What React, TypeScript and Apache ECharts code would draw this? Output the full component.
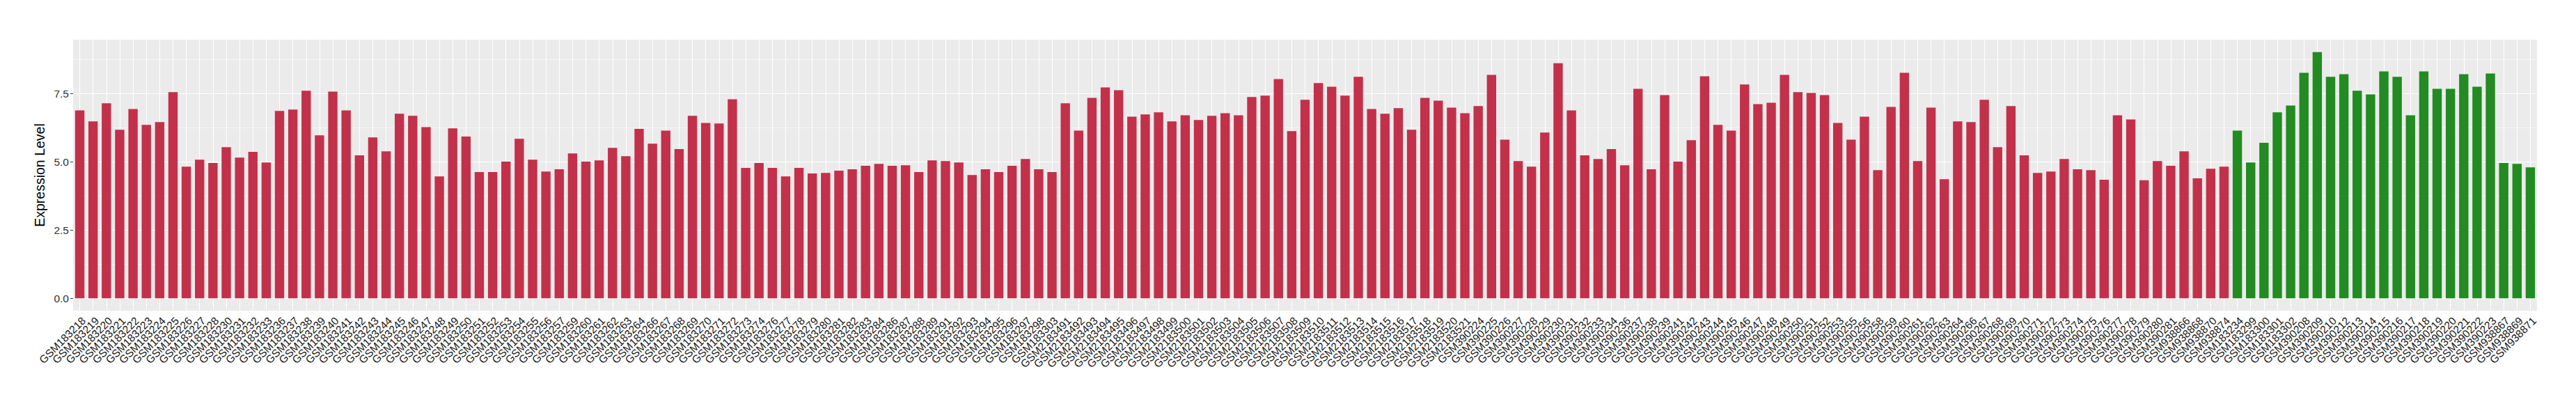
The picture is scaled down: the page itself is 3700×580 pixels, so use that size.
import React, { useEffect, useRef } from "react";
import * as echarts from "echarts";

const redSamples = [
  "GSM183218", "GSM183219", "GSM183220", "GSM183221", "GSM183222", "GSM183223", "GSM183224", "GSM183225",
  "GSM183226", "GSM183227", "GSM183228", "GSM183230", "GSM183231", "GSM183232", "GSM183233", "GSM183236",
  "GSM183237", "GSM183238", "GSM183239", "GSM183240", "GSM183241", "GSM183242", "GSM183243", "GSM183244",
  "GSM183245", "GSM183246", "GSM183247", "GSM183248", "GSM183249", "GSM183250", "GSM183251", "GSM183252",
  "GSM183253", "GSM183254", "GSM183255", "GSM183256", "GSM183257", "GSM183259", "GSM183260", "GSM183261",
  "GSM183262", "GSM183263", "GSM183264", "GSM183266", "GSM183267", "GSM183268", "GSM183269", "GSM183270",
  "GSM183271", "GSM183272", "GSM183273", "GSM183274", "GSM183276", "GSM183277", "GSM183278", "GSM183279",
  "GSM183280", "GSM183281", "GSM183282", "GSM183283", "GSM183284", "GSM183286", "GSM183287", "GSM183288",
  "GSM183289", "GSM183291", "GSM183292", "GSM183293", "GSM183294", "GSM183295", "GSM183296", "GSM183297",
  "GSM183298", "GSM183303",
  "GSM2183491", "GSM2183492", "GSM2183493", "GSM2183494", "GSM2183495", "GSM2183496", "GSM2183497",
  "GSM2183498", "GSM2183499", "GSM2183500", "GSM2183501", "GSM2183502", "GSM2183503", "GSM2183504",
  "GSM2183505", "GSM2183506", "GSM2183507", "GSM2183508", "GSM2183509", "GSM2183510", "GSM2183511",
  "GSM2183512", "GSM2183513", "GSM2183514", "GSM2183515", "GSM2183516", "GSM2183517", "GSM2183518",
  "GSM2183519", "GSM2183520", "GSM2183521",
  "GSM390224", "GSM390225", "GSM390226", "GSM390227", "GSM390228", "GSM390229", "GSM390230", "GSM390231",
  "GSM390232", "GSM390233", "GSM390234", "GSM390236", "GSM390237", "GSM390238", "GSM390239", "GSM390241",
  "GSM390242", "GSM390243", "GSM390244", "GSM390245", "GSM390246", "GSM390247", "GSM390248", "GSM390249",
  "GSM390250", "GSM390251", "GSM390252", "GSM390253", "GSM390255", "GSM390256", "GSM390258", "GSM390259",
  "GSM390260", "GSM390261", "GSM390262", "GSM390263", "GSM390264", "GSM390266", "GSM390267", "GSM390268",
  "GSM390269", "GSM390270", "GSM390271", "GSM390272", "GSM390273", "GSM390274", "GSM390275", "GSM390276",
  "GSM390277", "GSM390278", "GSM390279", "GSM390280", "GSM390281",
  "GSM938866", "GSM938868", "GSM938870", "GSM938874",
];

const redValues = [
  6.89, 6.49, 7.15, 6.18, 6.94, 6.36, 6.46, 7.56, 4.83, 5.08, 4.96, 5.54, 5.16, 5.37, 4.98, 6.87,
  6.92, 7.61, 5.98, 7.58, 6.89, 5.24, 5.90, 5.39, 6.77, 6.69, 6.28, 4.47, 6.23, 5.93, 4.63, 4.63,
  5.01, 5.85, 5.08, 4.65, 4.73, 5.31, 5.01, 5.06, 5.52, 5.21, 6.21, 5.67, 6.15, 5.47, 6.69, 6.43,
  6.41, 7.30, 4.78, 4.96, 4.78, 4.47, 4.78, 4.58, 4.60, 4.68, 4.73, 4.86, 4.93, 4.86, 4.88, 4.63,
  5.06, 5.03, 4.98, 4.52, 4.73, 4.63, 4.86, 5.11, 4.73, 4.63,
  7.15, 6.15, 7.35, 7.73, 7.63, 6.66, 6.74, 6.82, 6.49, 6.71, 6.54, 6.69, 6.79, 6.71, 7.38, 7.43,
  8.04, 6.13, 7.28, 7.89, 7.76, 7.43, 8.12, 6.94, 6.77, 6.97, 6.18, 7.35, 7.25, 6.99, 6.79,
  7.05, 8.19, 5.82, 5.03, 4.83, 6.08, 8.62, 6.89, 5.24, 5.11, 5.47, 4.88, 7.68, 4.73, 7.45, 5.01,
  5.80, 8.14, 6.36, 6.15, 7.84, 7.12, 7.17, 8.19, 7.56, 7.53, 7.45, 6.43, 5.82, 6.66, 4.70, 7.02,
  8.27, 5.03, 6.99, 4.37, 6.49, 6.46, 7.28, 5.54, 7.05, 5.24, 4.60, 4.65, 5.11, 4.73, 4.70, 4.35,
  6.71, 6.56, 4.33, 5.03, 4.86,
  5.39, 4.40, 4.75, 4.83,
];

const greenSamples = [
  "GSM183234", "GSM183299", "GSM183300", "GSM183301", "GSM183302", "GSM390208", "GSM390209", "GSM390210",
  "GSM390212", "GSM390213", "GSM390214", "GSM390215", "GSM390216", "GSM390217", "GSM390218", "GSM390219",
  "GSM390220", "GSM390221", "GSM390222", "GSM390223", "GSM938867", "GSM938869", "GSM938871",
];

const greenValues = [
  6.15, 4.98, 5.70, 6.82, 7.07, 8.27, 9.03, 8.12, 8.22, 7.61, 7.48, 8.32, 8.12, 6.71, 8.32, 7.68,
  7.68, 8.22, 7.76, 8.24, 4.96, 4.93, 4.80,
];

const yTicks = [0, 2.5, 5, 7.5];
const yMinorTicks = [1.25, 3.75, 6.25, 8.75];

const FONT = "'Liberation Sans', Arial, Helvetica, sans-serif";
const RED = "#C3304A";
const GREEN = "#228B22";

export default function App() {
  const ref = useRef<HTMLDivElement>(null);

  useEffect(() => {
    const chart = echarts.init(ref.current as HTMLDivElement, null, { renderer: "svg" });
    const categories = [...redSamples, ...greenSamples];
    const nRed = redValues.length;
    const redData = categories.map((_, i) => (i < nRed ? redValues[i] : "-"));
    const greenData = categories.map((_, i) => (i < nRed ? "-" : greenValues[i - nRed]));

    const gridLines: any[] = [
      ...categories.map((_, i) => ({ xAxis: i, lineStyle: { color: "#ffffff", width: 1.1, type: "solid" } })),
      ...yTicks.map((v) => ({ yAxis: v, lineStyle: { color: "#ffffff", width: 1.1, type: "solid" } })),
      ...yMinorTicks.map((v) => ({ yAxis: v, lineStyle: { color: "#ffffff", width: 0.55, type: "solid" } })),
    ];

    const yMin = -0.4515;
    const yMax = 9.4815;

    chart.setOption({
      animation: false,
      grid: {
        left: 105,
        right: 56,
        top: 57,
        bottom: 134,
        show: true,
        backgroundColor: "#EBEBEB",
        borderWidth: 0,
        containLabel: false,
        outerBoundsMode: "none",
      },
      xAxis: {
        type: "category",
        data: categories,
        axisLine: { show: false },
        axisTick: { show: true, alignWithLabel: true, interval: 0, length: 4, lineStyle: { color: "#333333", width: 1 } },
        axisLabel: {
          interval: 0,
          rotate: 45,
          align: "right",
          verticalAlign: "top",
          margin: 6,
          fontSize: 15.5,
          fontFamily: FONT,
          color: "#1a1a1a",
        },
        splitLine: { show: false },
      },
      yAxis: {
        type: "value",
        min: yMin,
        max: yMax,
        name: "Expression Level",
        nameLocation: "middle",
        nameGap: 30,
        nameRotate: 90,
        nameTextStyle: { fontSize: 19.5, fontFamily: FONT, color: "#000000" },
        axisLine: { show: false },
        axisTick: { show: true, length: 4, lineStyle: { color: "#333333", width: 1 }, customValues: yTicks },
        axisLabel: {
          customValues: yTicks,
          formatter: (v: number) => v.toFixed(1),
          fontSize: 15.5,
          fontFamily: FONT,
          color: "#333333",
          margin: 6,
        },
        splitLine: { show: false },
      },
      series: [
        {
          type: "bar",
          data: redData,
          barWidth: "70%",
          barGap: "-100%",
          itemStyle: { color: RED },
          z: 2,
          markLine: {
            silent: true,
            symbol: ["none", "none"],
            label: { show: false },
            emphasis: { disabled: true },
            z: 1,
            animation: false,
            data: gridLines,
          },
        },
        {
          type: "bar",
          data: greenData,
          barWidth: "70%",
          barGap: "-100%",
          itemStyle: { color: GREEN },
          z: 2,
        },
      ],
    });

    return () => chart.dispose();
  }, []);

  return <div ref={ref} style={{ position: "absolute", left: 0, top: 0, width: 3700, height: 580 }} />;
}
